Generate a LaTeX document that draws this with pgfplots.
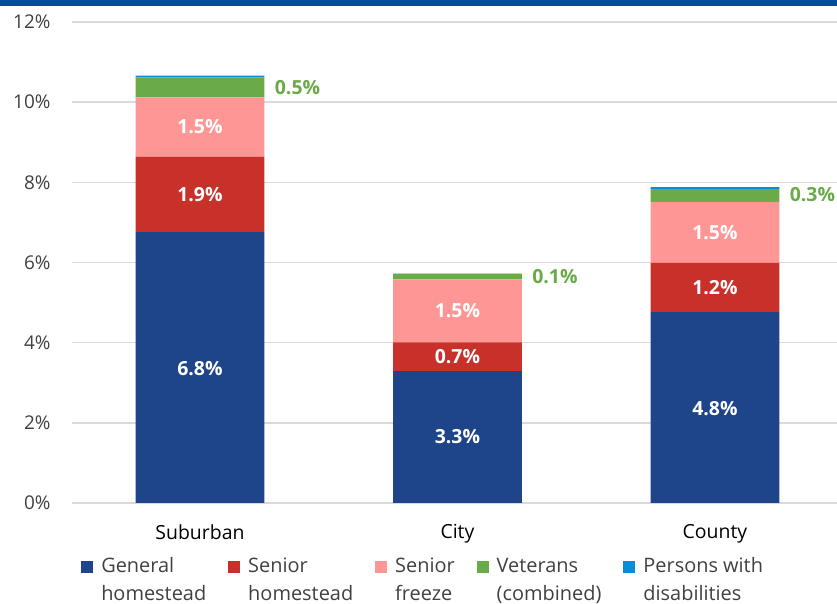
\documentclass[border=0pt]{standalone}
\usepackage{pgfplots}
\usepackage{pgfplotstable}
\pgfplotsset{compat=1.18}
\usepackage{fontspec}
\setmainfont{Open Sans}
\definecolor{banner}{HTML}{0B4C96}
\definecolor{cGen}{HTML}{1E4489}
\definecolor{cSH}{HTML}{C8302A}
\definecolor{cSF}{HTML}{FF9696}
\definecolor{cVet}{HTML}{6AAA48}
\definecolor{cDis}{HTML}{0A8CD8}
\definecolor{txt}{HTML}{404040}
\definecolor{gridc}{HTML}{D9D9D9}
\pgfplotstableread{
x gen sh sf vet dis
0 6.76 1.88 1.48 0.50 0.04
1 3.29 0.72 1.57 0.13 0.01
2 4.76 1.23 1.52 0.32 0.05
}\barsdata
\tikzset{inlab/.style={font=\fontsize{19.5}{22}\selectfont\bfseries, text=white},
  vetlab/.style={font=\fontsize{19.5}{22}\selectfont\bfseries, text=cVet, anchor=west, xshift=7bp}}
\pgfplotsset{frame/.style={at={(0,0)}, anchor=south west,
  scale only axis, width=765bp, height=481bp,
  xmin=-0.497, xmax=2.474, ymin=0, ymax=12}}
\begin{document}
\begin{tikzpicture}[x=1bp,y=1bp]
\useasboundingbox (-72,-101) rectangle (765,503);
\fill[banner] (-72,497) rectangle (765,503);
\begin{axis}[
  frame,
  ybar stacked, bar width=0.5,
  axis line style={draw=none},
  major tick length=0pt,
  ytick={0,2,...,12},
  yticklabel={\pgfmathprintnumber{\tick}\%},
  /pgf/number format/assume math mode=true,
  yticklabel style={font=\fontsize{19}{22}\selectfont, text=txt, xshift=-18bp},
  xtick={0,1,2},
  xticklabels={Suburban,City,County},
  xticklabel style={font=\fontsize{19.5}{22}\selectfont, text=black, yshift=-18bp},
  ymajorgrids, grid style={gridc, line width=1.5bp},
  legend columns=5,
  legend style={draw=none, fill=none, at={(axis description cs:0.459,-0.105)}, anchor=north,
    font=\fontsize{20}{28}\selectfont, text=txt, cells={align=left},
    /tikz/every even column/.append style={column sep=20bp},
    /tikz/every odd column/.append style={column sep=6bp}},
  legend image code/.code={\fill[#1] (0bp,7bp) rectangle (12bp,19bp);},
]
\addplot[fill=cGen, draw=none] table[x=x, y=gen] {\barsdata};
\addplot[fill=cSH, draw=none] table[x=x, y=sh] {\barsdata};
\addplot[fill=cSF, draw=none] table[x=x, y=sf] {\barsdata};
\addplot[fill=cVet, draw=none] table[x=x, y=vet] {\barsdata};
\addplot[fill=cDis, draw=none] table[x=x, y=dis] {\barsdata};
\legend{{General\\homestead},{Senior\\homestead},{Senior\\freeze},{Veterans\\(combined)},{Persons with\\disabilities}}
\end{axis}
\begin{axis}[frame, axis lines=none, clip=false]
\node[inlab] at (axis cs:0,3.36) {6.8\%};
\node[inlab] at (axis cs:0,7.70) {1.9\%};
\node[inlab] at (axis cs:0,9.38) {1.5\%};
\node[inlab] at (axis cs:1,1.65) {3.3\%};
\node[inlab] at (axis cs:1,3.65) {0.7\%};
\node[inlab] at (axis cs:1,4.80) {1.5\%};
\node[inlab] at (axis cs:2,2.36) {4.8\%};
\node[inlab] at (axis cs:2,5.37) {1.2\%};
\node[inlab] at (axis cs:2,6.75) {1.5\%};
\node[vetlab] at (axis cs:0.25,10.37) {0.5\%};
\node[vetlab] at (axis cs:1.25,5.66) {0.1\%};
\node[vetlab] at (axis cs:2.25,7.70) {0.3\%};
\end{axis}
\end{tikzpicture}
\end{document}
